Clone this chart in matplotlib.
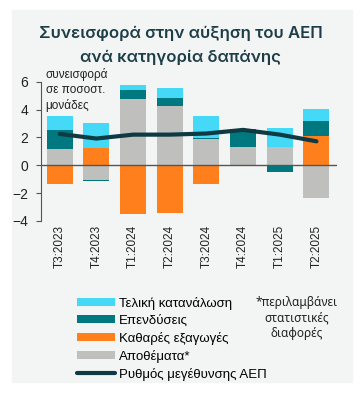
import numpy as np
import matplotlib.pyplot as plt
from matplotlib.patches import Rectangle

quarters = ["T3:2023", "T4:2023", "T1:2024", "T2:2024",
            "T3:2024", "T4:2024", "T1:2025", "T2:2025"]
stocks = [1.20, -1.07, 4.75, 4.26, 1.89, 1.28, 1.31, -2.35]
net_exports = [-1.31, 1.21, -3.53, -3.44, -1.31, 0.05, 0.00, 2.13]
investment = [1.30, -0.09, 0.65, 0.56, 0.05, 1.28, -0.46, 1.04]
consumption = [1.02, 1.86, 0.36, 0.72, 1.62, 0.00, 1.35, 0.90]
gdp_growth = [2.25, 1.92, 2.20, 2.20, 2.28, 2.54, 2.20, 1.72]

labels = ["Αποθέματα*", "Καθαρές εξαγωγές", "Επενδύσεις", "Τελική κατανάλωση"]
colors = ["#bfbfbd", "#ff7f1c", "#00787f", "#44d9f6"]
line_color = "#0e3a44"

fig = plt.figure(figsize=(3.61, 3.99), dpi=100)
fig.patches.append(Rectangle((12 / 361, 1 - 382 / 399), 340 / 361, 372 / 399,
                             transform=fig.transFigure, color="#f3f5f5", zorder=-10))

ax = fig.add_axes([40.7 / 361, 1 - 221 / 399, 296.3 / 361, 139.3 / 399])
ax.set_facecolor("none")

x = np.arange(len(quarters))
pos_bottom = np.zeros(len(x))
neg_bottom = np.zeros(len(x))
handles = {}
for vals, lab, col in zip([stocks, net_exports, investment, consumption], labels, colors):
    v = np.array(vals)
    bottom = np.where(v >= 0, pos_bottom, neg_bottom)
    h = ax.bar(x, v, 0.71, bottom=bottom, color=col, label=lab, zorder=2)
    handles[lab] = h
    pos_bottom = pos_bottom + np.where(v > 0, v, 0)
    neg_bottom = neg_bottom + np.where(v < 0, v, 0)

ln, = ax.plot(x, gdp_growth, color=line_color, lw=3, solid_capstyle="round",
              solid_joinstyle="round", zorder=4, label="Ρυθμός μεγέθυνσης ΑΕΠ")
ax.axhline(0, color="#555555", lw=1, zorder=3)

ax.set_xlim(-0.52, 7.56)
ax.set_ylim(-4, 6)
ax.set_yticks([-4, -2, 0, 2, 4, 6])
ax.set_xticks(x)
ax.set_xticklabels(quarters, rotation=90, fontsize=8.5,
                   family=["Liberation Sans Narrow", "Liberation Sans"], color="#222222")
ax.tick_params(axis="x", length=0, pad=3)
ax.tick_params(axis="y", labelsize=10, length=3.4, color="#555555", pad=5.5, labelcolor="#222222")
for t in ax.get_yticklabels():
    t.set_family("Liberation Sans")
for s in ["top", "right", "bottom"]:
    ax.spines[s].set_visible(False)
ax.spines["left"].set_color("#555555")

fig.text(45.7 / 361, 1 - 68 / 399, "συνεισφορά\nσε ποσοστ.\nμονάδες",
         fontsize=8.5, family="Liberation Sans", color="#222222", va="top",
         linespacing=1.3)

title_font = ["Inter", "DejaVu Sans"]
fig.text(0.5, 1 - 33 / 399, "Συνεισφορά στην αύξηση του ΑΕΠ", ha="center", va="center",
         fontsize=12, family=title_font, weight="semibold", color="#1d3d47")
fig.text(0.5, 1 - 57 / 399, "ανά κατηγορία δαπάνης", ha="center", va="center",
         fontsize=12, family=title_font, weight="semibold", color="#1d3d47")

order = ["Τελική κατανάλωση", "Επενδύσεις", "Καθαρές εξαγωγές", "Αποθέματα*"]
leg = fig.legend([handles[k] for k in order] + [ln], order + [ln.get_label()],
                 loc="upper left", bbox_to_anchor=(70 / 361, 1 - 290 / 399),
                 frameon=False, prop={"family": "Liberation Sans", "size": 9.5},
                 handlelength=2.9, handleheight=0.6, handletextpad=0.3,
                 labelspacing=0.38, borderpad=0)

fig.text(297 / 361, 1 - 318 / 399, "*περιλαμβάνει\nστατιστικές\nδιαφορές", ha="center",
         va="center", fontsize=8.5, family="Noto Sans", color="#222222", linespacing=1.25)

fig.savefig("out.png", dpi=100)
